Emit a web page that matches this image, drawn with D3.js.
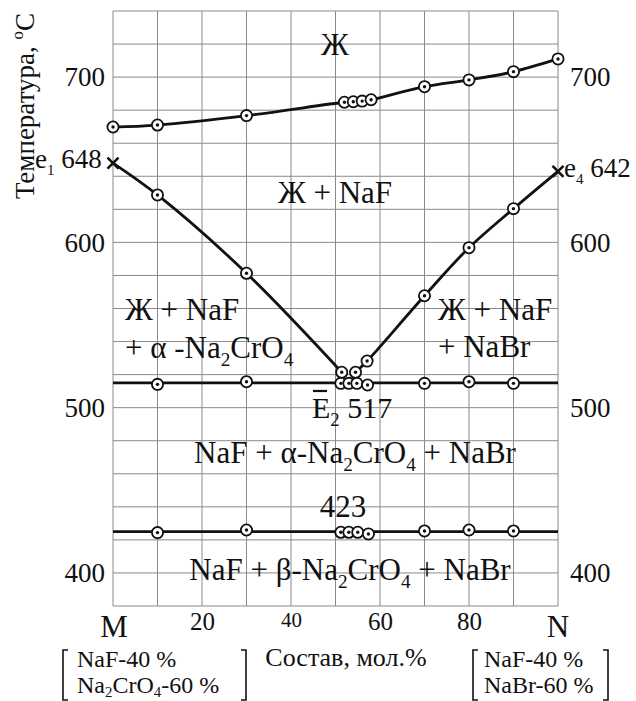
<!DOCTYPE html>
<html>
<head>
<meta charset="utf-8">
<script src="https://cdn.jsdelivr.net/npm/d3@7"></script>
<style>
body { margin: 0; background: #fff; }
svg text { font-family: "Liberation Serif", "Times New Roman", Times, "DejaVu Serif", "Noto Serif", serif !important; fill: #111; }
</style>
</head>
<body>
<div id="chart"></div>
<script>
// composition (mol.%) and temperatures (°C)
var upperX = [0, 10, 30, 52, 54, 56, 58, 70, 80, 90, 100];
var upperT = [669.8, 671, 676.7, 684.8, 685.1, 685.5, 686.3, 694.2, 698.3, 703.3, 711];
var leftX = [0, 10, 30, 51.4];
var leftT = [648, 628.7, 581.3, 521.4];
var rightX = [54.5, 57.1, 70, 80, 90, 100];
var rightT = [521.4, 528.2, 567.7, 596.8, 620.4, 643];
var eutT = 515;
var eutPtX = [10, 30, 51.2, 53, 54.8, 57.2, 70, 80, 90];
var eutPtT = [514.1, 515.7, 514.7, 514.7, 514.7, 513.7, 514.7, 515.7, 514.7];
var transT = 425;
var transPtX = [10, 30, 51.2, 53, 55, 57.4, 70, 80, 90];
var transPtT = [424.4, 426, 424.6, 424.6, 424.6, 423.6, 425.4, 426, 425.4];
var yTicks = [400, 500, 600, 700];
var xTicks = [20, 40, 60, 80];

var svgwidth = 636;
var svgheight = 701;
var margin = {top: 11, left: 113, right: 78, bottom: 95};
var width = svgwidth - margin.left - margin.right;
var height = svgheight - margin.top - margin.bottom;
var serif = "'Liberation Serif', 'Times New Roman', Times, 'DejaVu Serif', serif";

var svg = d3.select("#chart").append("svg").attr("width", svgwidth).attr("height", svgheight)
    .attr("font-family", serif);
var g = svg.append("g").attr("transform", `translate(${margin.left},${margin.top})`);

var x = d3.scaleLinear().domain([0, 100]).range([0, width]);
var y = d3.scaleLinear().domain([380, 740]).range([height, 0]);

// grid
g.selectAll(".vgrid").data(d3.range(0, 101, 10)).enter().append("line")
    .attr("x1", d => x(d)).attr("x2", d => x(d)).attr("y1", 0).attr("y2", height)
    .attr("stroke", "#8a8a8a").attr("stroke-width", 1);
g.selectAll(".hgrid").data(d3.range(380, 741, 20)).enter().append("line")
    .attr("y1", d => y(d)).attr("y2", d => y(d)).attr("x1", 0).attr("x2", width)
    .attr("stroke", "#8a8a8a").attr("stroke-width", 1);

// tick labels
var leftAxis = d3.axisLeft(y).tickValues(yTicks).tickSize(0).tickPadding(8);
var rightAxis = d3.axisRight(y).tickValues(yTicks).tickSize(0).tickPadding(12);
var bottomAxis = d3.axisBottom(x).tickValues(xTicks).tickSize(0).tickPadding(6);
var la = g.append("g").call(leftAxis);
var ra = g.append("g").attr("transform", `translate(${width},0)`).call(rightAxis);
var ba = g.append("g").attr("transform", `translate(0,${height})`).call(bottomAxis);
[la, ra, ba].forEach(function(a) {
    a.attr("font-family", serif);
    a.select(".domain").remove();
    a.selectAll("text").attr("fill", "#111");
});
la.selectAll("text").attr("font-size", 27);
ra.selectAll("text").attr("font-size", 27);
ba.selectAll("text").attr("font-size", d => d == 40 ? 21 : 25);

// lines
var line = d3.line().x(d => x(d[0])).y(d => y(d[1])).curve(d3.curveCatmullRom.alpha(0.5));
var zip = (a, b) => a.map((v, i) => [v, b[i]]);

[zip(upperX, upperT), zip(leftX, leftT), zip(rightX, rightT)].forEach(function(pts) {
    g.append("path").attr("d", line(pts)).attr("fill", "none")
        .attr("stroke", "#111").attr("stroke-width", 2.8);
});
[eutT, transT].forEach(function(t) {
    g.append("line").attr("x1", x(0)).attr("x2", x(100)).attr("y1", y(t)).attr("y2", y(t))
        .attr("stroke", "#111").attr("stroke-width", 2.8);
});

// markers
var pts = zip(upperX, upperT)
    .concat(zip(leftX, leftT).slice(1))
    .concat(zip(rightX, rightT).slice(0, -1))
    .concat(zip(eutPtX, eutPtT))
    .concat(zip(transPtX, transPtT));
var mk = g.selectAll(".mk").data(pts).enter().append("g")
    .attr("transform", d => `translate(${x(d[0])},${y(d[1])})`);
mk.append("circle").attr("r", 5.6).attr("fill", "#fff").attr("stroke", "#111").attr("stroke-width", 1.8);
mk.append("circle").attr("r", 1.7).attr("fill", "#111");

// crosses at binary eutectics
[[leftX[0], leftT[0]], [rightX[rightX.length - 1], rightT[rightT.length - 1]]].forEach(function(d) {
    var cx = x(d[0]), cy = y(d[1]), s = 5.5;
    g.append("path").attr("d", `M${cx-s},${cy-s}L${cx+s},${cy+s}M${cx-s},${cy+s}L${cx+s},${cy-s}`)
        .attr("stroke", "#111").attr("stroke-width", 2.6);
});

// text helper: parts = [[text, "n"|"sub"|"sup", size?]]
function rich(px, py, parts, size, anchor, subShift) {
    var t = svg.append("text").attr("x", px).attr("y", py).attr("font-size", size)
        .attr("text-anchor", anchor || "start");
    var shift = 0;
    parts.forEach(function(p) {
        var target = p[1] == "sub" ? size * (subShift || 0.25) : p[1] == "sup" ? -size * 0.4 : 0;
        t.append("tspan").attr("dy", target - shift)
            .attr("font-size", p[1] == "n" ? size : (p[2] || size * 0.62)).text(p[0]);
        shift = target;
    });
    return t;
}

rich(335, 55, [["Ж", "n"]], 31, "middle");
rich(335, 203, [["Ж + NaF", "n"]], 31, "middle");
rich(125, 320, [["Ж + NaF", "n"]], 31);
rich(125, 358, [["+ α -Na", "n"], ["2", "sub"], ["CrO", "n"], ["4", "sub"]], 31);
rich(438, 320, [["Ж + NaF", "n"]], 31);
rich(438, 357, [["+ NaBr", "n"]], 31);
rich(355, 463, [["NaF + α-Na", "n"], ["2", "sub"], ["CrO", "n"], ["4", "sub"], [" + NaBr", "n"]], 31, "middle");
rich(350, 580, [["NaF + β-Na", "n"], ["2", "sub"], ["CrO", "n"], ["4", "sub"], [" + NaBr", "n"]], 31, "middle");
rich(343, 517, [["423", "n"]], 31, "middle");
rich(312, 418, [["E", "n"], ["2", "sub"], [" 517", "n"]], 30);
svg.append("line").attr("x1", 313).attr("x2", 327).attr("y1", 391).attr("y2", 391)
    .attr("stroke", "#111").attr("stroke-width", 2.2);

rich(35, 168, [["e", "n"], ["1", "sub", 15], [" 648", "n"]], 27);
rich(564, 177, [["e", "n"], ["4", "sub", 15], [" 642", "n"]], 27);

// y title
svg.append("text").attr("transform", "translate(34,106) rotate(-90)")
    .attr("text-anchor", "middle").attr("font-size", 27)
    .call(function(t) {
        t.append("tspan").text("Температура, ");
        t.append("tspan").attr("dy", -11).attr("font-size", 17).text("o");
        t.append("tspan").attr("dy", 11).text("C");
    });

// x labels
rich(114, 637, [["M", "n"]], 31, "middle");
rich(558, 637, [["N", "n"]], 31, "middle");
rich(346, 666, [["Состав, мол.%", "n"]], 26, "middle");

rich(77, 667, [["NaF-40 %", "n"]], 24);
rich(77, 693, [["Na", "n"], ["2", "sub"], ["CrO", "n"], ["4", "sub"], ["-60 %", "n"]], 24, "start", 0.18);
rich(484, 667, [["NaF-40 %", "n"]], 24);
rich(484, 693, [["NaBr-60 %", "n"]], 24);

// brackets
function bracket(bx, dir) {
    svg.append("path").attr("d", `M${bx + 5 * dir},650H${bx}V700H${bx + 5 * dir}`)
        .attr("fill", "none").attr("stroke", "#111").attr("stroke-width", 1.6);
}
bracket(63, 1); bracket(246, -1); bracket(473, 1); bracket(608, -1);
</script>
</body>
</html>
